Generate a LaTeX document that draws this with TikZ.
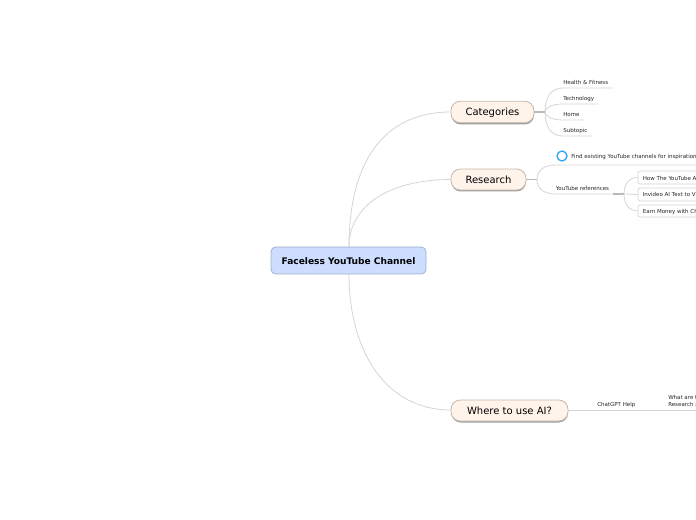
\documentclass[tikz,border=0pt]{standalone}
\usepackage{fontspec}
\setmainfont{DejaVu Sans}
\usetikzlibrary{calc}
\definecolor{rootfill}{HTML}{CCDDFF}
\definecolor{rootline}{HTML}{A0AEC8}
\definecolor{mainfill}{HTML}{FFF3EA}
\definecolor{mainline}{HTML}{C4B8AC}
\definecolor{linkgray}{HTML}{D4D4D4}
\definecolor{stemgray}{HTML}{BCB8B4}
\definecolor{ringblue}{HTML}{2FA8EE}
\tikzset{
  rootbox/.style={draw=rootline, fill=rootfill, rounded corners=3.5, line width=0.6pt, font=\fontsize{6.8}{8}\selectfont\bfseries, text=black, text height=6.5pt, text depth=0.8pt},
  mainbox/.style={draw=mainline, fill=mainfill, rounded corners=7, line width=0.6pt, font=\fontsize{7.5}{9}\selectfont, text=black, text height=6.4pt, text depth=1pt},
  subbox/.style={draw=linkgray, fill=white, rounded corners=1.5, line width=0.5pt},
  tinytext/.style={font=\fontsize{4.13}{4.7}\selectfont, text=black!85, inner sep=0pt, anchor=west},
  link/.style={draw=linkgray, line width=0.6pt},
  stem/.style={draw=stemgray, line width=1pt},
}
\begin{document}
\begin{tikzpicture}[x=0.75pt, y=-0.75pt]
    \useasboundingbox (0,0) rectangle (696,520);
    \clip (0,0) rectangle (696,520);

    % Connectors from the centre
    \coordinate (rootup) at (349,247);
    \coordinate (rootdown) at (349,274);
    \coordinate (catin) at (451,112);
    \coordinate (resin) at (451,179.5);
    \coordinate (aiin) at (451,410);
    \draw[link] (rootup) .. controls (349,160) and (385,112) .. (catin);
    \draw[link] (rootup) .. controls (349,205) and (390,179.5) .. (resin);
    \draw[link] (rootdown) .. controls (349,350) and (385,410) .. (aiin);

    % Shadows
    \fill[gray!75, rounded corners=7] (451.5,103) rectangle (534,124.5);
    \fill[gray!75, rounded corners=7] (451.5,171) rectangle (526,191.5);
    \fill[gray!75, rounded corners=7] (451.5,402) rectangle (568,422.5);

    % Centre and main topics
    \node[rootbox, minimum width=116.25pt, minimum height=20.25pt, inner sep=0pt] (root) at (348.5,260.5) {Faceless YouTube Channel};
    \node[mainbox, minimum width=62.25pt, minimum height=16.1pt, inner sep=0pt] (cat) at (492.5,112) {Categories};
    \node[mainbox, minimum width=56.25pt, minimum height=15.75pt, inner sep=0pt] (res) at (488.5,179.5) {Research};
    \node[mainbox, minimum width=87.75pt, minimum height=15.75pt, inner sep=0pt] (ai) at (509.5,410.5) {Where to use AI?};

    % Categories
    \coordinate (catfork) at (545,112);
    \draw[stem] (cat.east) -- (catfork);
    \node[tinytext] (health) at (563,82.5) {Health \& Fitness};
    \node[tinytext] (tech) at (563,98.5) {Technology};
    \node[tinytext] (home) at (563,114.5) {Home};
    \node[tinytext] (subt) at (563,130.5) {Subtopic};
    \draw[link] (catfork) .. controls (545,97) and (551,88) .. (563,88) -- (613,88);
    \draw[link] (catfork) .. controls (545,108) and (551,104) .. (563,104) -- (598,104);
    \draw[link] (catfork) .. controls (545,116) and (551,120) .. (563,120) -- (584,120);
    \draw[link] (catfork) .. controls (545,127) and (551,136) .. (563,136) -- (592,136);

    % Research
    \coordinate (resfork) at (537,179.5);
    \draw[stem, line width=0.7pt] (res.east) -- (resfork);
    \draw[ringblue, line width=1pt, fill=white] (562,156) circle (5);
    \node[tinytext] (find) at (571,156.5) {Find existing YouTube channels for inspiration};
    \node[tinytext] (refs) at (555.5,188.5) {YouTube references};
    \draw[link] (resfork) .. controls (537,171) and (543,165) .. (556,165) -- (696,165);
    \draw[link] (resfork) .. controls (537,188) and (543,194) .. (556,194) -- (613,194);

    % YouTube references
    \coordinate (reffork) at (624,194);
    \draw[stem] (613,194) -- (reffork);
    \node[subbox, minimum width=67.5pt, minimum height=9.75pt, inner sep=0pt] (vidone) at (683,177.5) {};
    \node[subbox, minimum width=67.5pt, minimum height=9.75pt, inner sep=0pt] (vidtwo) at (683,194.5) {};
    \node[subbox, minimum width=67.5pt, minimum height=9pt, inner sep=0pt] (vidthree) at (683,211) {};
    \node[tinytext] at (642.5,178) {How The YouTube A};
    \node[tinytext] at (642.5,194.5) {Invideo AI Text to V};
    \node[tinytext] at (642.5,211.5) {Earn Money with Ch};
    \draw[link] (reffork) .. controls (624,184) and (629,177.5) .. (vidone.west);
    \draw[link] (reffork) -- (vidtwo.west);
    \draw[link] (reffork) .. controls (624,204) and (629,211) .. (vidthree.west);

    % Where to use AI
    \node[tinytext] (help) at (597,405) {ChatGPT Help};
    \node[tinytext, align=left] (what) at (668,401) {What are t\\Research a};
    \draw[link] (ai.east) -- (696,410.5);
\end{tikzpicture}
\end{document}
